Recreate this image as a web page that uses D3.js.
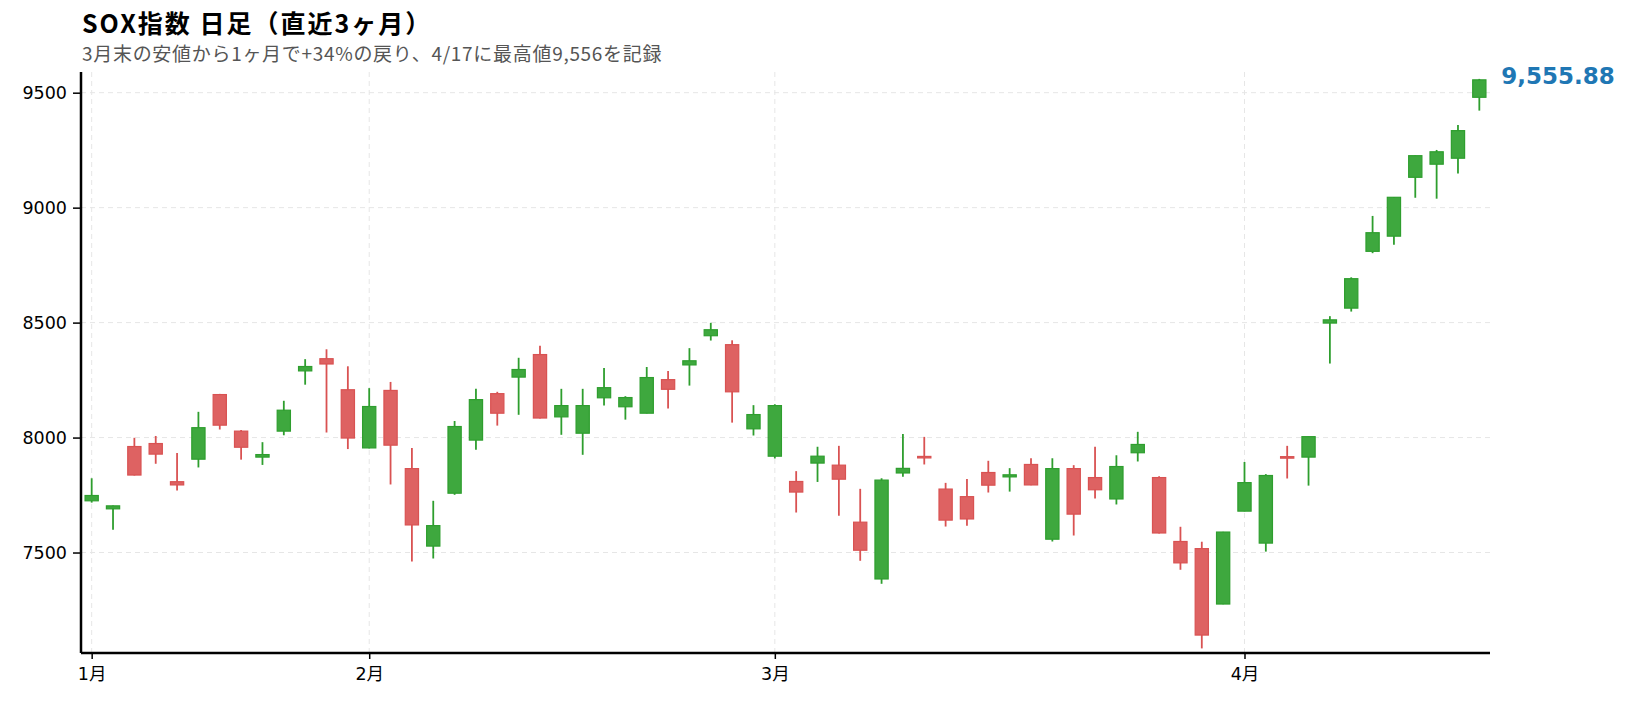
<!DOCTYPE html>
<html>
<head>
<meta charset="utf-8">
<script src="https://cdn.jsdelivr.net/npm/d3@7"></script>
<style>
  body { margin: 0; background: #fff; }
  svg { font-family: "Noto Sans CJK JP", "Noto Sans", sans-serif; }
  .grid line { stroke: #e6e6e6; stroke-dasharray: 5,4; }
</style>
</head>
<body>
<svg width="1630" height="703"></svg>
<script>
// trading days (2026/1/13 - 4/17)
const dates = [
  '2026-01-13','2026-01-14','2026-01-15','2026-01-16','2026-01-20','2026-01-21','2026-01-22','2026-01-23',
  '2026-01-26','2026-01-27','2026-01-28','2026-01-29','2026-01-30',
  '2026-02-02','2026-02-03','2026-02-04','2026-02-05','2026-02-06','2026-02-09','2026-02-10','2026-02-11',
  '2026-02-12','2026-02-13','2026-02-17','2026-02-18','2026-02-19','2026-02-20','2026-02-23','2026-02-24',
  '2026-02-25','2026-02-26','2026-02-27',
  '2026-03-02','2026-03-03','2026-03-04','2026-03-05','2026-03-06','2026-03-09','2026-03-10','2026-03-11',
  '2026-03-12','2026-03-13','2026-03-16','2026-03-17','2026-03-18','2026-03-19','2026-03-20','2026-03-23',
  '2026-03-24','2026-03-25','2026-03-26','2026-03-27','2026-03-30','2026-03-31',
  '2026-04-01','2026-04-02','2026-04-06','2026-04-07','2026-04-08','2026-04-09','2026-04-10','2026-04-13',
  '2026-04-14','2026-04-15','2026-04-16','2026-04-17'
];
const opens = [
  7725, 7690, 7961, 7974, 7808, 7906, 8187, 8028, 7915, 8028, 8290, 8343, 8208,
  7955, 8205, 7865, 7528, 7758, 7989, 8191, 8263, 8361, 8090, 8019, 8173, 8134, 8106, 8252, 8316, 8443, 8404, 8038,
  7919, 7809, 7889, 7880, 7632, 7385, 7846, 7918, 7776, 7743, 7848, 7829, 7883, 7558, 7865, 7826, 7733, 7934, 7826, 7548, 7517, 7276,
  7680, 7541, 7917, 7915, 8498, 8563, 8810, 8876, 9132, 9189, 9215, 9480
];
const highs = [
  7823, 7705, 7999, 8007, 7933, 8112, 8190, 8033, 7980, 8160, 8341, 8384, 8310,
  8215, 8242, 7955, 7725, 8072, 8212, 8199, 8347, 8399, 8212, 8212, 8303, 8180, 8307, 8290, 8389, 8499, 8423, 8141,
  8145, 7854, 7960, 7964, 7777, 7823, 8016, 8003, 7803, 7820, 7899, 7867, 7910, 7910, 7880, 7960, 7923, 8025, 7832, 7612, 7547, 7590,
  7894, 7841, 7964, 8005, 8528, 8697, 8964, 9046, 9227, 9251, 9360, 9560
];
const lows = [
  7717, 7599, 7835, 7886, 7770, 7870, 8035, 7904, 7881, 8010, 8230, 8022, 7950,
  7953, 7796, 7461, 7474, 7751, 7947, 8052, 8099, 8083, 8012, 7925, 8139, 8078, 8105, 8126, 8226, 8422, 8065, 8009,
  7909, 7674, 7807, 7660, 7464, 7364, 7830, 7883, 7613, 7617, 7761, 7765, 7793, 7548, 7574, 7735, 7709, 7896, 7583, 7425, 7083, 7275,
  7679, 7504, 7822, 7791, 8322, 8548, 8802, 8839, 9043, 9039, 9148, 9422
];
const closes = [
  7748, 7703, 7837, 7928, 7794, 8043, 8054, 7958, 7926, 8119, 8309, 8320, 7998,
  8135, 7967, 7620, 7617, 8048, 8165, 8106, 8296, 8085, 8139, 8139, 8217, 8174, 8261, 8210, 8334, 8469, 8199, 8100,
  8139, 7763, 7919, 7819, 7510, 7815, 7866, 7916, 7641, 7646, 7793, 7838, 7794, 7865, 7667, 7773, 7874, 7970, 7585, 7455, 7141, 7589,
  7804, 7835, 7915, 8004, 8512, 8691, 8891, 9045, 9226, 9243, 9335, 9555.88
];
const yTicks = [7500, 8000, 8500, 9000, 9500];
const title = 'SOX指数 日足（直近3ヶ月）';
const subtitle = '3月末の安値から1ヶ月で+34%の戻り、4/17に最高値9,556を記録';

const data = dates.map((d, i) => ({ date: d, o: opens[i], h: highs[i], l: lows[i], c: closes[i] }));

const svg = d3.select('svg');
const margin = { left: 81, right: 140, top: 72, bottom: 50 };
const W = 1630, H = 703;

const x = d3.scalePoint()
  .domain(dates)
  .range([margin.left, W - margin.right])
  .padding(0.5);

const lo = d3.min(lows), hi = d3.max(highs);
const y = d3.scaleLinear()
  .domain([lo - 20, hi + 30])
  .range([H - margin.bottom, margin.top]);

// month ticks: first trading day of each month
const monthTicks = dates.filter((d, i) => i === 0 || d.slice(5, 7) !== dates[i - 1].slice(5, 7));

// grid
svg.append('g').attr('class', 'grid')
  .selectAll('line.h').data(yTicks).join('line')
   .attr('x1', margin.left).attr('x2', W - margin.right)
   .attr('y1', d => y(d)).attr('y2', d => y(d));
svg.append('g').attr('class', 'grid')
  .selectAll('line.v').data(monthTicks).join('line')
   .attr('x1', d => x(d)).attr('x2', d => x(d))
   .attr('y1', margin.top).attr('y2', H - margin.bottom);

const up = { fill: '#3ea83e', stroke: '#2e9e2e' };
const down = { fill: '#de6262', stroke: '#d95252' };
const col = d => d.c >= d.o ? up : down;
const bw = x.step() * 0.62;

const candles = svg.append('g').selectAll('g').data(data).join('g')
  .attr('transform', d => `translate(${x(d.date)},0)`);

candles.append('line')
  .attr('y1', d => y(d.h)).attr('y2', d => y(d.l))
  .attr('stroke', d => col(d).stroke)
  .attr('stroke-width', 1.8);

candles.append('rect')
  .attr('x', -bw / 2)
  .attr('width', bw)
  .attr('y', d => y(Math.max(d.o, d.c)))
  .attr('height', d => Math.max(1.5, Math.abs(y(d.o) - y(d.c))))
  .attr('fill', d => col(d).fill)
  .attr('stroke', d => col(d).stroke)
  .attr('stroke-width', 1.2);

// axes
const yAxis = svg.append('g')
  .attr('transform', `translate(${margin.left},0)`)
  .call(d3.axisLeft(y).tickValues(yTicks).tickSize(8).tickPadding(6).tickFormat(d3.format('d')));
const xAxis = svg.append('g')
  .attr('transform', `translate(0,${H - margin.bottom})`)
  .call(d3.axisBottom(x).tickValues(monthTicks).tickSize(6).tickPadding(9)
    .tickFormat(d => (+d.slice(5, 7)) + '月'));

[yAxis, xAxis].forEach(a => {
  a.select('.domain').attr('stroke', '#000').attr('stroke-width', 2.5);
  a.selectAll('.tick line').attr('stroke', '#000').attr('stroke-width', 1.5);
  a.selectAll('.tick text').attr('fill', '#000').style('font-size', '17.5px')
   .style('font-family', '"DejaVu Sans", "Noto Sans CJK JP", sans-serif');
});
xAxis.select('.domain').attr('d', `M${margin.left},0H${W - margin.right}`);
yAxis.select('.domain').attr('d', `M0,${margin.top}V${H - margin.bottom}`);

// last value label
const last = data[data.length - 1];
svg.append('text')
  .attr('x', x(last.date) + 22)
  .attr('y', y(last.c) + 4)
  .attr('fill', '#1f77b4')
  .style('font-size', '23px')
  .style('font-weight', 'bold')
  .style('font-family', '"DejaVu Sans", sans-serif')
  .text(d3.format(',.2f')(last.c));

// titles
svg.append('text')
  .attr('x', 82).attr('y', 33)
  .style('font-size', '25px').style('font-weight', 'bold').style('letter-spacing', '2px')
  .attr('fill', '#000')
  .text(title);
svg.append('text')
  .attr('x', 82).attr('y', 61)
  .style('font-size', '19px').style('letter-spacing', '0.7px').attr('fill', '#555')
  .text(subtitle);
</script>
</body>
</html>
